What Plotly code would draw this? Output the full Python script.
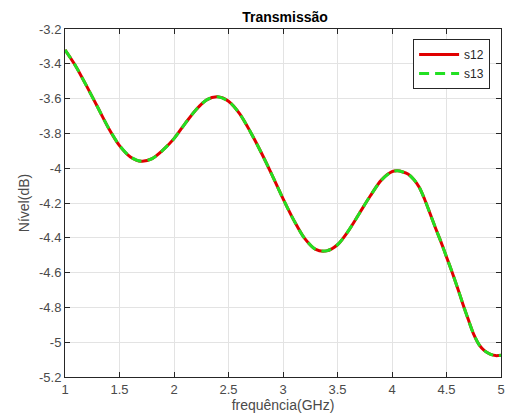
import plotly.graph_objects as go

freq = [1.0, 1.1, 1.2, 1.3, 1.4, 1.5, 1.6, 1.7, 1.8, 1.9, 2.0, 2.1, 2.2, 2.3, 2.4,
        2.5, 2.6, 2.7, 2.8, 2.9, 3.0, 3.1, 3.2, 3.3, 3.4, 3.5, 3.6, 3.7, 3.8, 3.9,
        4.0, 4.05, 4.1, 4.15, 4.2, 4.25, 4.3, 4.35, 4.4, 4.45, 4.5, 4.55, 4.6, 4.65,
        4.7, 4.75, 4.8, 4.85, 4.9, 4.95, 5.0]
s12 = [-3.32, -3.415, -3.53, -3.65, -3.77, -3.87, -3.935, -3.96, -3.945, -3.895,
       -3.83, -3.745, -3.665, -3.607, -3.59, -3.615, -3.685, -3.79, -3.91, -4.04,
       -4.175, -4.30, -4.405, -4.467, -4.475, -4.44, -4.36, -4.26, -4.16, -4.07,
       -4.02, -4.015, -4.022, -4.035, -4.065, -4.11, -4.18, -4.262, -4.345, -4.425,
       -4.51, -4.595, -4.685, -4.78, -4.87, -4.955, -5.015, -5.05, -5.068, -5.077, -5.075]
s13 = list(s12)

xticks = [1, 1.5, 2, 2.5, 3, 3.5, 4, 4.5, 5]
yticks = [-3.2, -3.4, -3.6, -3.8, -4, -4.2, -4.4, -4.6, -4.8, -5, -5.2]

FONT = "Liberation Sans, Arial, sans-serif"

fig = go.Figure()
fig.add_trace(go.Scatter(x=freq, y=s12, mode="lines", name="s12",
                         line=dict(color="#e00000", width=3, shape="spline", smoothing=0.8)))
fig.add_trace(go.Scatter(x=freq, y=s13, mode="lines", name="s13",
                         line=dict(color="#22e022", width=3, shape="spline", smoothing=0.8,
                                   dash="10px,6px")))

axis_common = dict(
    showline=True, linecolor="#262626", linewidth=1, mirror="ticks",
    ticks="inside", ticklen=5, tickcolor="#262626",
    showgrid=True, gridcolor="#e3e3e3", gridwidth=1, zeroline=False,
    tickfont=dict(family=FONT, size=13, color="#4a4a4a"),
)

fig.update_layout(
    width=513, height=419,
    margin=dict(l=65, r=8, t=29, b=42),
    paper_bgcolor="white", plot_bgcolor="white",
    title=dict(text="<b>Transmissão</b>", x=(65 + 505) / 2 / 513, xanchor="center",
               y=1 - 17 / 419, yanchor="middle",
               font=dict(family=FONT, size=14, color="black")),
    xaxis=dict(range=[1, 5], tickvals=xticks, ticktext=[str(v) for v in xticks],
               title=dict(text="frequência(GHz)", standoff=2,
                          font=dict(family=FONT, size=14, color="#4a4a4a")),
               **axis_common),
    yaxis=dict(range=[-5.2, -3.2], tickvals=yticks, ticktext=[("%g" % v) for v in yticks],
               title=dict(text="Nível(dB)", standoff=6,
                          font=dict(family=FONT, size=14, color="#4a4a4a")),
               **axis_common),
    legend=dict(x=0.975, y=0.971, xanchor="right", yanchor="top",
                bgcolor="white", bordercolor="#262626", borderwidth=1,
                font=dict(family=FONT, size=12, color="#262626"),
                itemwidth=40, tracegroupgap=0),
    showlegend=True,
)

fig.write_html("out.html")
